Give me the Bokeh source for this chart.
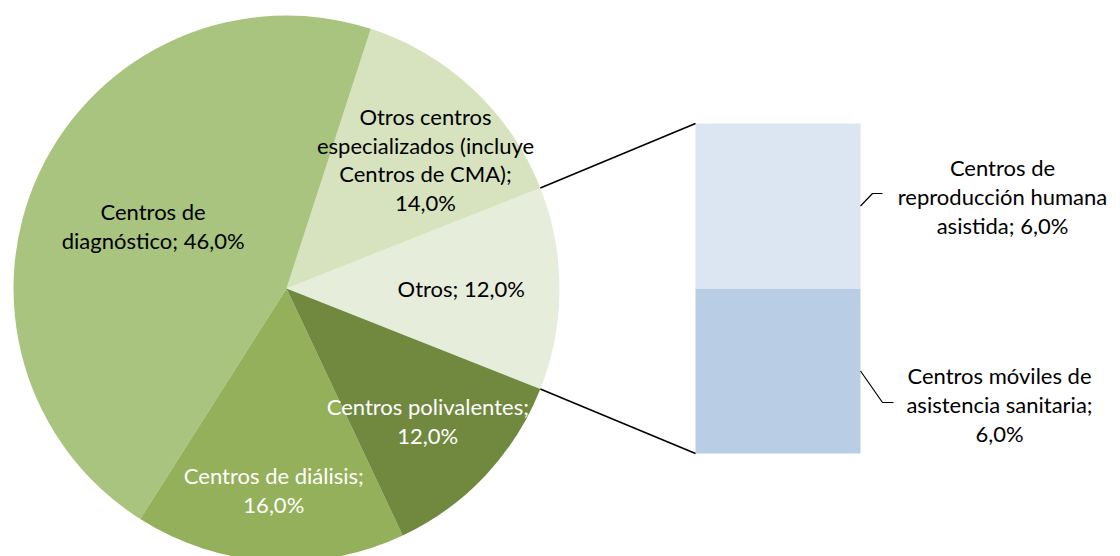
import numpy as np
from bokeh.plotting import figure
from bokeh.models import Range1d, ColumnDataSource
from bokeh.embed import file_html
from bokeh.resources import INLINE
from bokeh.core.properties import value

# ---------------- data ----------------
pie_categories = ["Otros",
                  "Otros centros especializados (incluye Centros de CMA)",
                  "Centros de diagnóstico",
                  "Centros de diálisis",
                  "Centros polivalentes"]
pie_values = [12.0, 14.0, 46.0, 16.0, 12.0]
pie_label_texts = ["Otros; 12,0%",
                   "Otros centros\nespecializados (incluye\nCentros de CMA);\n14,0%",
                   "Centros de\ndiagnóstico; 46,0%",
                   "Centros de diálisis;\n16,0%",
                   "Centros polivalentes;\n12,0%"]

bar_categories = ["Centros móviles de asistencia sanitaria",
                  "Centros de reproducción humana asistida"]
bar_values = [6.0, 6.0]
bar_label_texts = ["Centros móviles de\nasistencia sanitaria;\n6,0%",
                   "Centros de\nreproducción humana\nasistida; 6,0%"]

# ---------------- style / layout ----------------
pie_colors = ["#E6EDDB", "#D7E3BF", "#A9C47F", "#94B05A", "#71893F"]
pie_text_colors = ["#000000", "#000000", "#000000", "#FFFFFF", "#FFFFFF"]
pie_label_frac = [0.64, 0.695, 0.54, 0.74, 0.71]
pie_label_angle_shift_deg = [0.0, -3.9, 0.0, 0.0, 0.0]
bar_colors = ["#B9CDE5", "#DCE6F2"]

FONT = "Lato"
FS = "22px"
LH = 1.06

W, H = 1120, 556
p = figure(width=W, height=H,
           x_range=Range1d(0, W),
           y_range=Range1d(0, H),
           output_backend="svg", toolbar_location=None,
           x_axis_location=None, y_axis_location=None,
           min_border=0)
p.grid.visible = False
p.outline_line_color = None
p.background_fill_color = "white"
p.border_fill_color = "white"

# ---------------- pie ----------------
cx, cy, R = 286.0, 268.0, 273.0
total = sum(pie_values)
fr = np.array(pie_values) / total * 2 * np.pi
start0 = -fr[0] / 2
starts = start0 + np.concatenate([[0], np.cumsum(fr)[:-1]])
ends = starts + fr
mids = (starts + ends) / 2 + np.radians(pie_label_angle_shift_deg)

pie_src = ColumnDataSource(dict(start=starts, end=ends, color=pie_colors, cat=pie_categories))
p.wedge(x=cx, y=cy, radius=R, start_angle="start", end_angle="end",
        fill_color="color", line_color=None, source=pie_src)

lab_src = ColumnDataSource(dict(
    x=cx + np.array(pie_label_frac) * R * np.cos(mids),
    y=cy + np.array(pie_label_frac) * R * np.sin(mids),
    text=pie_label_texts, color=pie_text_colors))
p.text(x="x", y="y", text="text", text_color="color", source=lab_src,
       text_align="center", text_baseline="middle",
       text_font=value(FONT), text_font_size=FS, text_line_height=LH)

# ---------------- bar ----------------
bar_x0, bar_x1 = 695.0, 860.0
bar_y0, bar_y1 = 103.0, 433.0  # data coords of stacked bar bottom/top
bar_total = sum(bar_values)
ppu = (bar_y1 - bar_y0) / bar_total
p.extra_y_ranges = {"bar": Range1d((0 - bar_y0) / ppu, (H - bar_y0) / ppu)}

cum = np.cumsum(bar_values)
bottoms = np.concatenate([[0], cum[:-1]])
tops = cum
bar_src = ColumnDataSource(dict(bottom=bottoms, top=tops, color=bar_colors, cat=bar_categories))
p.vbar(x=(bar_x0 + bar_x1) / 2, width=bar_x1 - bar_x0, bottom="bottom", top="top",
       fill_color="color", line_color=None, source=bar_src, y_range_name="bar")

def u2y(u):
    return bar_y0 + u * ppu

# connector lines from the "Otros" slice edges to the bar corners
p.segment(x0=[cx + R * np.cos(starts[0]), cx + R * np.cos(ends[0])],
          y0=[cy + R * np.sin(starts[0]), cy + R * np.sin(ends[0])],
          x1=[bar_x0, bar_x0],
          y1=[u2y(0), u2y(bar_total)],
          line_color="black", line_width=1.6)

# bar labels with leader lines
seg_mid = [u2y((b + t) / 2) for b, t in zip(bottoms, tops)]
elbow_dy = [-31.5, 12.5]
elbow_dx = [22, 12]
horiz_len = [11, 10]
label_dy = [-33.5, 9.5]
xs, ys = [], []
for m, edy, edx, hl in zip(seg_mid, elbow_dy, elbow_dx, horiz_len):
    xs.append([bar_x1, bar_x1 + edx, bar_x1 + edx + hl])
    ys.append([m, m + edy, m + edy])
p.multi_line(xs=xs, ys=ys, line_color="black", line_width=1.2)

bl_src = ColumnDataSource(dict(x=[999, 1002], y=[m + d for m, d in zip(seg_mid, label_dy)],
                               text=bar_label_texts))
p.text(x="x", y="y", text="text", source=bl_src, text_color="#000000",
       text_align="center", text_baseline="middle",
       text_font=value(FONT), text_font_size=FS, text_line_height=LH)

open("out.html", "w").write(file_html(p, INLINE))
